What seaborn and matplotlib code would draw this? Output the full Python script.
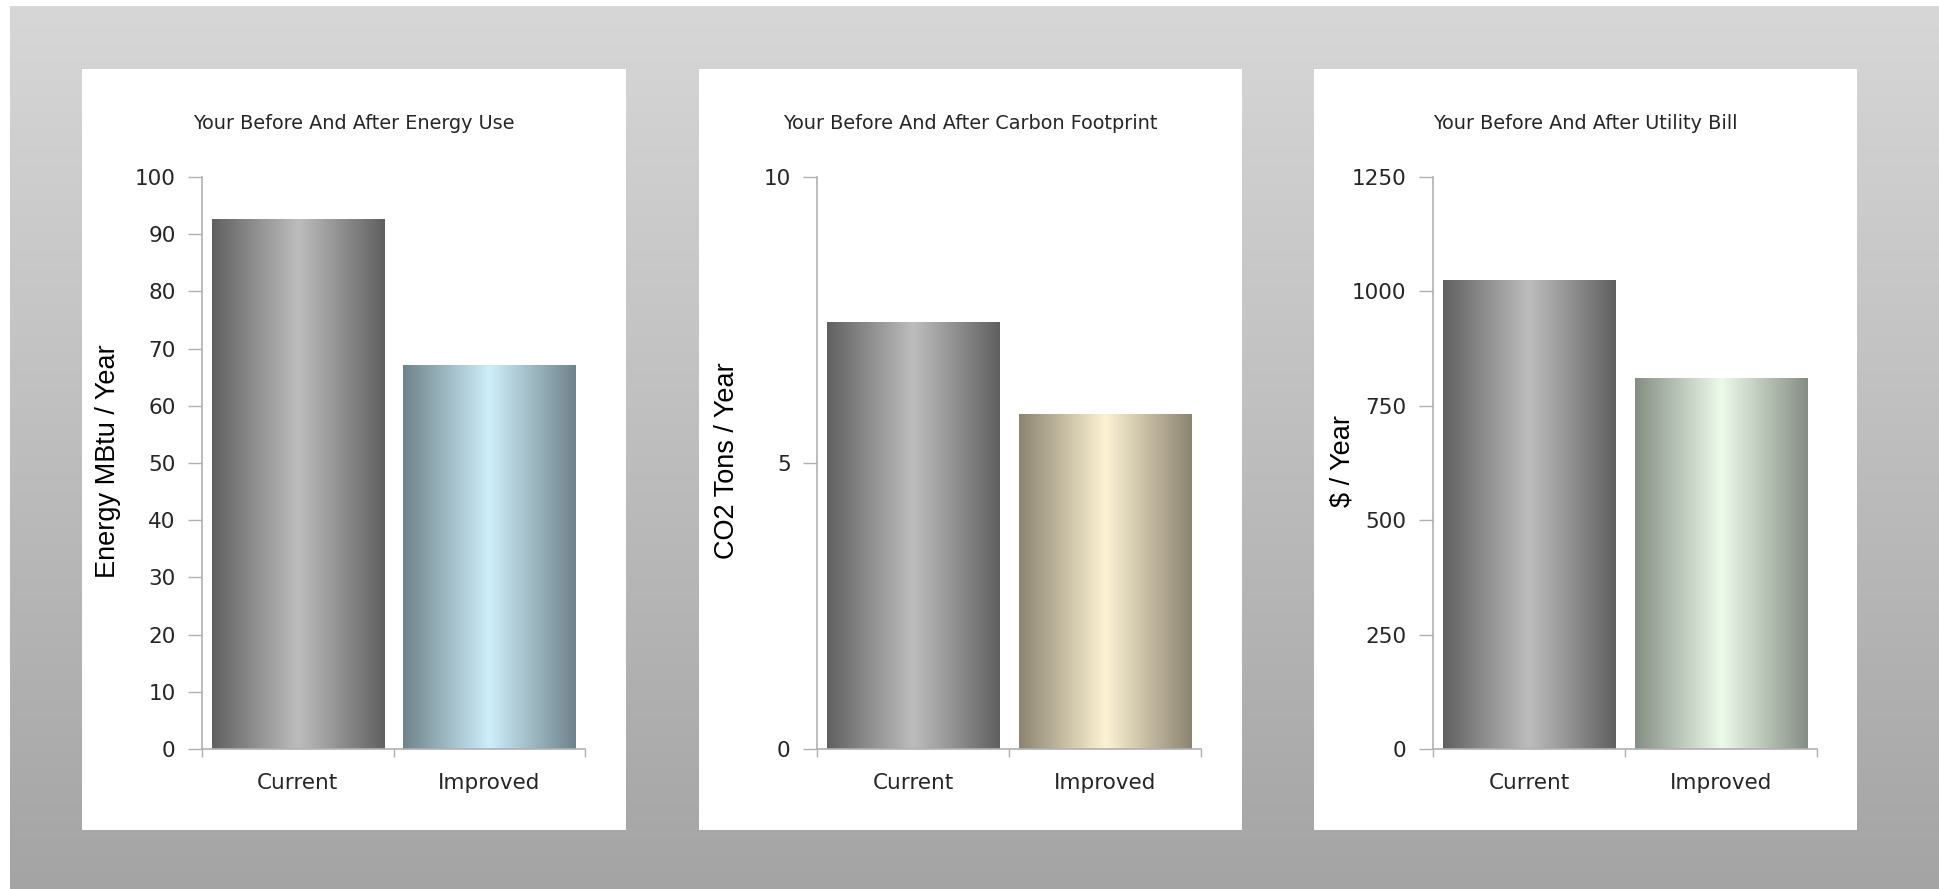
import numpy as np
import matplotlib
matplotlib.use("Agg")
import matplotlib.pyplot as plt
from matplotlib.patches import Rectangle
from matplotlib.colors import to_rgb
import seaborn as sns

# data
categories = ["Current", "Improved"]
energy = [92.7, 67.2]
carbon = [7.47, 5.85]
bill = [1026, 810]

titles = ["Your Before And After Energy Use",
          "Your Before And After Carbon Footprint",
          "Your Before And After Utility Bill"]
ylabels = ["Energy MBtu / Year", "CO2 Tons / Year", "$ / Year"]
yticks = [[0, 10, 20, 30, 40, 50, 60, 70, 80, 90, 100], [0, 5, 10], [0, 250, 500, 750, 1000, 1250]]

# gradient colours (edge, centre) per bar
grey = ("#606060", "#bdbdbd")
improved_cols = [("#6f838b", "#cdeefa"), ("#8c8371", "#fdf3d3"), ("#858e84", "#edfbeb")]

sns.set_theme(style="white")
plt.rcParams["font.family"] = ["DejaVu Sans"]

W, H = 1939, 889
fig = plt.figure(figsize=(W / 100, H / 100), dpi=100, facecolor="white")


def box(x0, y0, x1, y1):
    # pixel box (top-left origin) -> figure fraction rect
    return [x0 / W, 1 - y1 / H, (x1 - x0) / W, (y1 - y0) / H]


# grey gradient backdrop
bg = fig.add_axes(box(10, 6, W, H), zorder=-10)
grad = np.linspace(0, 1, 256)[:, None]
top, bot = np.array(to_rgb("#d7d7d7")), np.array(to_rgb("#a4a4a4"))
img = top + (bot - top) * grad[..., None]
bg.imshow(img, aspect="auto", extent=[0, 1, 0, 1])
bg.set_axis_off()

panels = [(82, 626), (699, 1242), (1314, 1857)]
axes_x = [(202, 585), (817, 1201), (1433, 1817)]
ylab_x = [108, 727, 1343]
values = [energy, carbon, bill]


def gradient_fill(ax, patch, edge, centre):
    x0, w, h = patch.get_x(), patch.get_width(), patch.get_height()
    t = np.linspace(0, 1, 400)
    k = 1 - np.abs(2 * t - 1)
    e, c = np.array(to_rgb(edge)), np.array(to_rgb(centre))
    row = e + (c - e) * k[:, None]
    im = ax.imshow(row[None, :, :], extent=[x0, x0 + w, 0, h], aspect="auto",
                   interpolation="bilinear", zorder=patch.get_zorder() + 0.1)
    im.set_clip_path(patch)
    patch.set_edgecolor("none")


for i in range(3):
    px0, px1 = panels[i]
    fig.add_artist(Rectangle((px0 / W, 1 - 830 / H), (px1 - px0) / W, (830 - 69) / H,
                             transform=fig.transFigure, facecolor="white",
                             edgecolor="none", zorder=-5))
    ax0, ax1 = axes_x[i]
    ax = fig.add_axes(box(ax0, 177, ax1, 749))
    ax.set_facecolor("none")
    cols = [grey, improved_cols[i]]
    sns.barplot(x=categories, y=values[i], hue=categories, palette=[c[0] for c in cols],
                width=0.9, saturation=1, legend=False, ax=ax)
    for patch, c in zip(ax.patches, cols):
        gradient_fill(ax, patch, c[0], c[1])
    ax.set_xlim(-0.5, 1.5)
    ax.set_ylim(0, yticks[i][-1])
    ax.set_yticks(yticks[i])
    ax.set_xticks([0, 1])
    ax.set_xticklabels(categories)
    ax.set_xticks([-0.5, 0.5, 1.5], minor=True)
    ax.set_xlabel("")
    ax.set_ylabel("")
    for s in ["top", "right"]:
        ax.spines[s].set_visible(False)
    for s in ["left", "bottom"]:
        ax.spines[s].set_color("#b0b0b0")
        ax.spines[s].set_linewidth(1.2)
    ax.tick_params(axis="y", which="major", left=True, length=10, width=1, color="#b0b0b0",
                   pad=9, labelsize=15.5, labelcolor="#262626")
    ax.tick_params(axis="x", which="major", bottom=True, length=0, pad=17.5,
                   labelsize=15.5, labelcolor="#262626")
    ax.tick_params(axis="x", which="minor", bottom=True, length=6, width=1, color="#b0b0b0")
    fig.text((px0 + px1) / 2 / W, 1 - 123.5 / H, titles[i], ha="center", va="center",
             fontsize=13.9, color="#262626")
    fig.text(ylab_x[i] / W, 1 - 461 / H, ylabels[i], rotation=90, ha="center", va="center",
             fontsize=19.5, family=["Liberation Sans", "DejaVu Sans"], color="black")

fig.savefig("out.png", dpi=100, facecolor="white")
